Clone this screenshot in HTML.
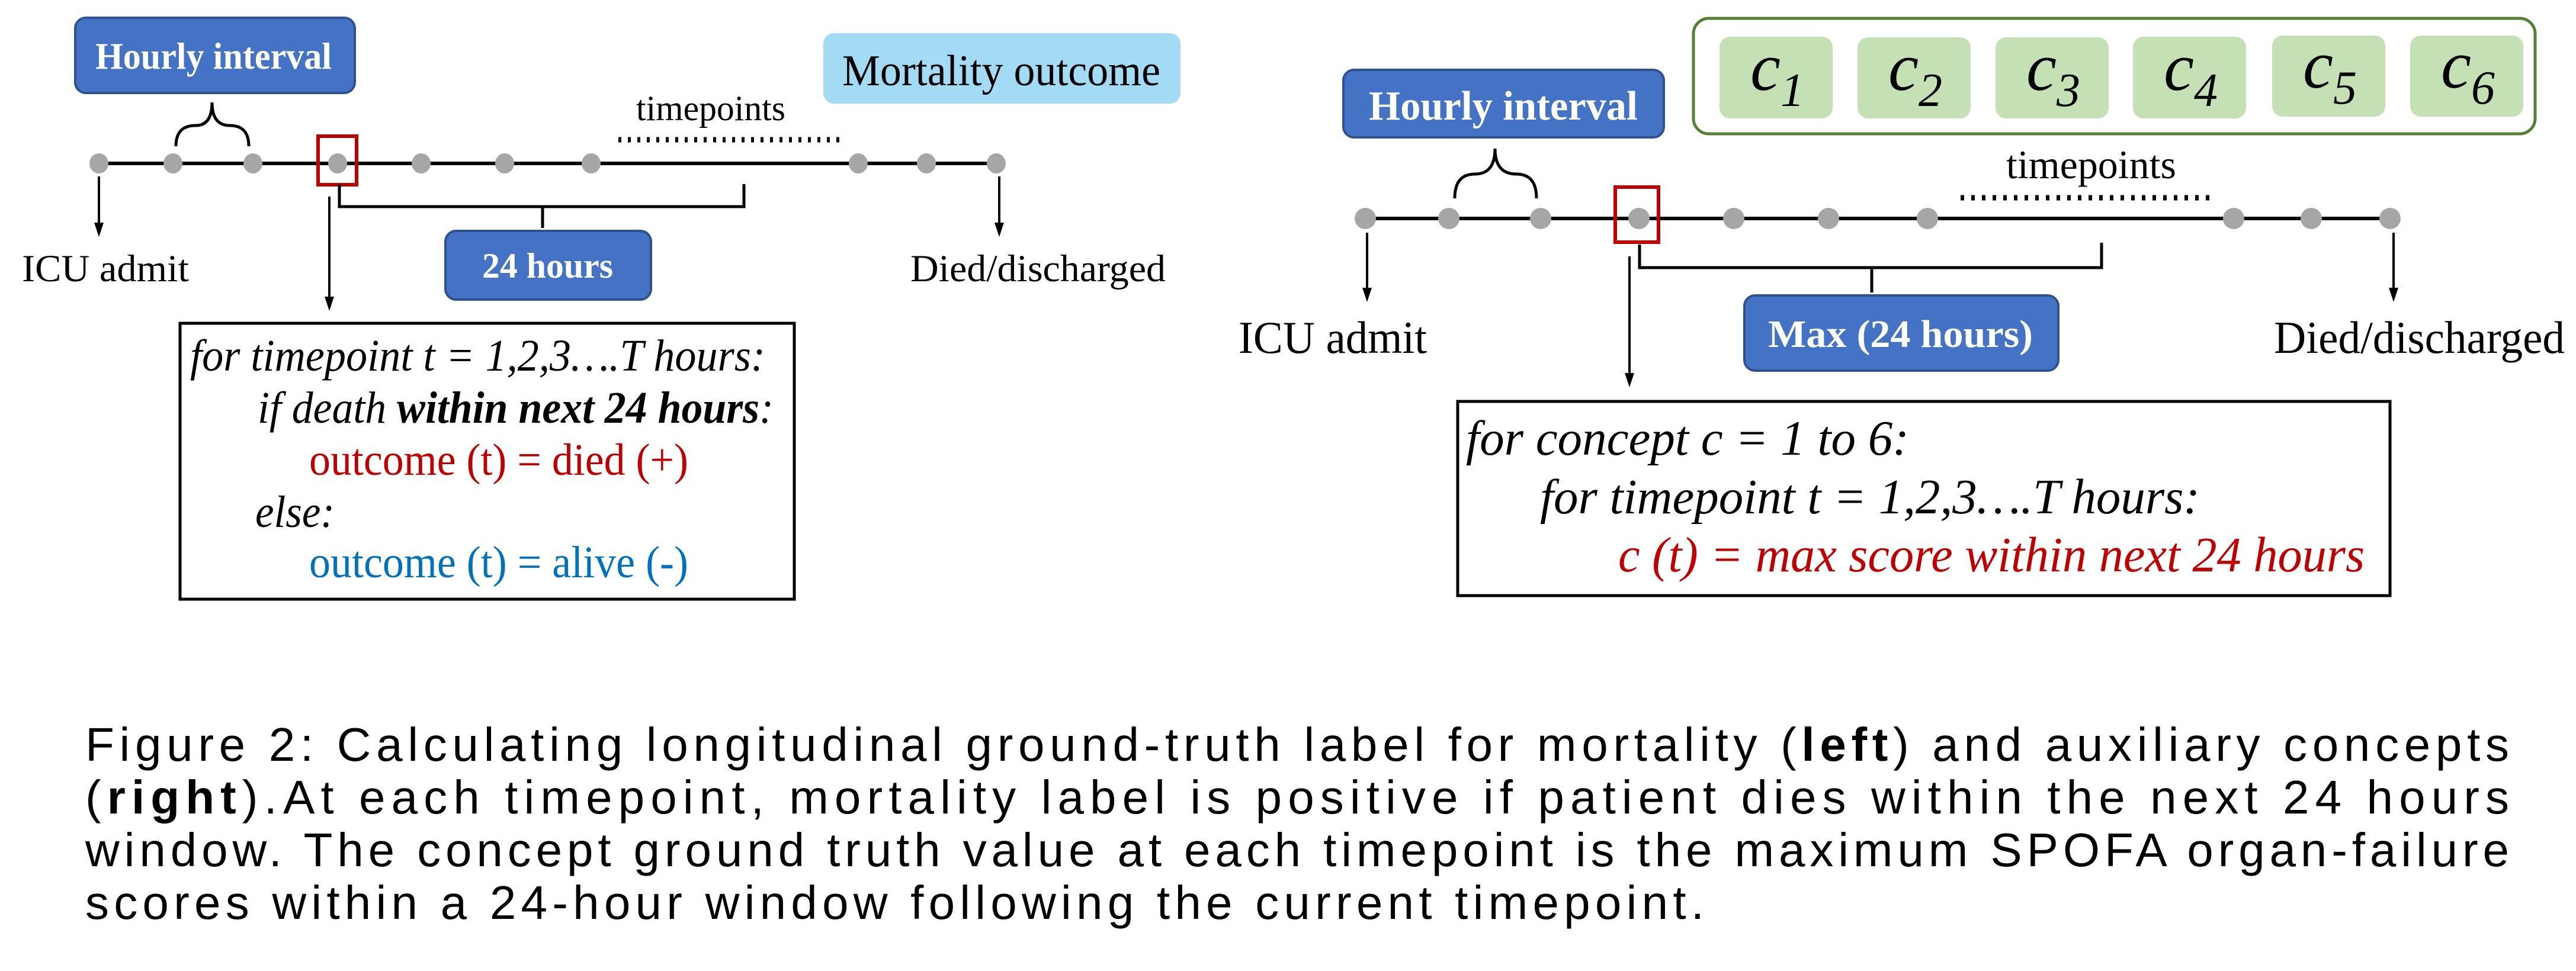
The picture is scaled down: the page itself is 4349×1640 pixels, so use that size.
<!DOCTYPE html>
<html><head><meta charset="utf-8"><style>
html,body{margin:0;padding:0;background:#fff;}
body{width:4349px;height:1640px;position:relative;overflow:hidden;}
svg{position:absolute;left:0;top:0;font-family:"Liberation Serif",serif;}
svg text{font-family:"Liberation Serif",serif;}
svg text.cap{font-family:"Liberation Sans",sans-serif;font-size:80px;}
</style></head><body>
<svg width="4349" height="1640" viewBox="0 0 4349 1640">
<!-- LEFT -->
<rect x="127" y="30" width="472" height="127" rx="18" fill="#4472C4" stroke="#2F528F" stroke-width="4"/>
<text x="161" y="116" font-size="63" font-weight="bold" fill="#fff" textLength="399" lengthAdjust="spacingAndGlyphs">Hourly interval</text>
<rect x="1390" y="56" width="603" height="119" rx="18" fill="#A3DBF5"/>
<text x="1422" y="144" font-size="74" fill="#000" textLength="537" lengthAdjust="spacingAndGlyphs">Mortality outcome</text>
<text x="1074" y="203" font-size="60" textLength="252" lengthAdjust="spacingAndGlyphs">timepoints</text>
<line x1="1044" y1="236" x2="1419" y2="236" stroke="#000" stroke-width="9" stroke-dasharray="5 11"/>
<path d="M297,247 Q297,212 330,212 Q358,212 358,173 Q358,212 388,212 Q420,212 420,247" fill="none" stroke="#000" stroke-width="5"/>
<line x1="167" y1="276" x2="1682" y2="276" stroke="#000" stroke-width="6"/>
<g fill="#A6A6A6">
<ellipse cx="167" cy="276" rx="16" ry="17"/><ellipse cx="292" cy="276" rx="16" ry="17"/><ellipse cx="427" cy="276" rx="16" ry="17"/><ellipse cx="570" cy="276" rx="16" ry="17"/><ellipse cx="711" cy="276" rx="16" ry="17"/><ellipse cx="852" cy="276" rx="16" ry="17"/><ellipse cx="998" cy="276" rx="16" ry="17"/><ellipse cx="1449" cy="276" rx="16" ry="17"/><ellipse cx="1564" cy="276" rx="16" ry="17"/><ellipse cx="1682" cy="276" rx="16" ry="17"/>
</g>
<rect x="537" y="230" width="65" height="82" fill="none" stroke="#C00000" stroke-width="6"/>
<path d="M573,311 L573,349 L1256,349 L1256,311 M916,349 L916,385" fill="none" stroke="#000" stroke-width="5"/>
<g stroke="#000" stroke-width="4">
<line x1="167" y1="298" x2="167" y2="380"/>
<line x1="1687" y1="298" x2="1687" y2="380"/>
<line x1="556" y1="332" x2="556" y2="505"/>
</g>
<g fill="#000">
<polygon points="159,376 175,376 167,400"/>
<polygon points="1679,376 1695,376 1687,400"/>
<polygon points="548,501 564,501 556,525"/>
</g>
<text x="37" y="475" font-size="65" textLength="282" lengthAdjust="spacingAndGlyphs">ICU admit</text>
<text x="1537" y="475" font-size="65" textLength="431" lengthAdjust="spacingAndGlyphs">Died/discharged</text>
<rect x="752" y="390" width="347" height="116" rx="18" fill="#4472C4" stroke="#2F528F" stroke-width="4"/>
<text x="814" y="469" font-size="60" font-weight="bold" fill="#fff" textLength="221" lengthAdjust="spacingAndGlyphs">24 hours</text>
<rect x="304" y="546" width="1037" height="466" fill="none" stroke="#000" stroke-width="5"/>
<g font-size="76" font-style="italic">
<text x="321" y="626" textLength="971" lengthAdjust="spacingAndGlyphs">for timepoint t = 1,2,3….T hours:</text>
<text x="435" y="714" textLength="871" lengthAdjust="spacingAndGlyphs">if death <tspan font-weight="bold">within next 24 hours</tspan>:</text>
<text x="431" y="890" textLength="134" lengthAdjust="spacingAndGlyphs">else:</text>
</g>
<text x="522" y="802" font-size="76" fill="#C00000" textLength="640" lengthAdjust="spacingAndGlyphs">outcome (t) = died (+)</text>
<text x="522" y="975" font-size="76" fill="#0070C0" textLength="640" lengthAdjust="spacingAndGlyphs">outcome (t) = alive (-)</text>

<!-- RIGHT -->
<rect x="2268" y="118" width="541" height="114" rx="18" fill="#4472C4" stroke="#2F528F" stroke-width="4"/>
<text x="2311" y="202" font-size="70" font-weight="bold" fill="#fff" textLength="454" lengthAdjust="spacingAndGlyphs">Hourly interval</text>
<rect x="2859" y="31" width="1421" height="195" rx="26" fill="#fff" stroke="#548235" stroke-width="5"/>
<g fill="#C5E0B4">
<rect x="2903" y="62" width="191" height="138" rx="18"/><rect x="3136" y="63" width="191" height="137" rx="18"/><rect x="3369" y="63" width="191" height="137" rx="18"/><rect x="3601" y="62" width="191" height="138" rx="18"/><rect x="3836" y="60" width="191" height="137" rx="18"/><rect x="4069" y="60" width="191" height="137" rx="18"/>
</g>
<g font-style="italic" font-size="115">
<text x="2955" y="152">c<tspan font-size="80" dy="27">1</tspan></text>
<text x="3188" y="152">c<tspan font-size="80" dy="27">2</tspan></text>
<text x="3421" y="152">c<tspan font-size="80" dy="27">3</tspan></text>
<text x="3653" y="152">c<tspan font-size="80" dy="27">4</tspan></text>
<text x="3888" y="148">c<tspan font-size="80" dy="27">5</tspan></text>
<text x="4121" y="148">c<tspan font-size="80" dy="27">6</tspan></text>
</g>
<text x="3387" y="301" font-size="68" textLength="287" lengthAdjust="spacingAndGlyphs">timepoints</text>
<line x1="3310" y1="334" x2="3740" y2="334" stroke="#000" stroke-width="9" stroke-dasharray="6 12"/>
<path d="M2456,335 Q2456,294 2490,294 Q2524,294 2524,251 Q2524,294 2560,294 Q2594,294 2594,335" fill="none" stroke="#000" stroke-width="5"/>
<line x1="2305" y1="369" x2="4035" y2="369" stroke="#000" stroke-width="6"/>
<g fill="#A6A6A6">
<ellipse cx="2305" cy="369" rx="18" ry="18"/><ellipse cx="2446" cy="369" rx="18" ry="18"/><ellipse cx="2601" cy="369" rx="18" ry="18"/><ellipse cx="2767" cy="369" rx="18" ry="18"/><ellipse cx="2927" cy="369" rx="18" ry="18"/><ellipse cx="3087" cy="369" rx="18" ry="18"/><ellipse cx="3254" cy="369" rx="18" ry="18"/><ellipse cx="3771" cy="369" rx="18" ry="18"/><ellipse cx="3902" cy="369" rx="18" ry="18"/><ellipse cx="4035" cy="369" rx="18" ry="18"/>
</g>
<rect x="2727" y="316" width="73" height="93" fill="none" stroke="#C00000" stroke-width="6"/>
<path d="M2768,413 L2768,452 L3548,452 L3548,410 M3160,452 L3160,494" fill="none" stroke="#000" stroke-width="5"/>
<g stroke="#000" stroke-width="4">
<line x1="2308" y1="393" x2="2308" y2="490"/>
<line x1="4041" y1="393" x2="4041" y2="490"/>
<line x1="2751" y1="433" x2="2751" y2="634"/>
</g>
<g fill="#000">
<polygon points="2300,486 2316,486 2308,510"/>
<polygon points="4033,486 4049,486 4041,510"/>
<polygon points="2743,630 2759,630 2751,654"/>
</g>
<text x="2091" y="596" font-size="77" textLength="318" lengthAdjust="spacingAndGlyphs">ICU admit</text>
<text x="3839" y="596" font-size="77" textLength="491" lengthAdjust="spacingAndGlyphs">Died/discharged</text>
<rect x="2945" y="499" width="530" height="127" rx="18" fill="#4472C4" stroke="#2F528F" stroke-width="4"/>
<text x="2985" y="586" font-size="66" font-weight="bold" fill="#fff" textLength="447" lengthAdjust="spacingAndGlyphs">Max (24 hours)</text>
<rect x="2461" y="678" width="1574" height="328" fill="none" stroke="#000" stroke-width="5"/>
<g font-size="84" font-style="italic">
<text x="2475" y="768" textLength="748" lengthAdjust="spacingAndGlyphs">for concept c = 1 to 6:</text>
<text x="2600" y="867" textLength="1114" lengthAdjust="spacingAndGlyphs">for timepoint t = 1,2,3….T hours:</text>
<text x="2732" y="965" fill="#C00000" textLength="1260" lengthAdjust="spacingAndGlyphs">c (t) = max score within next 24 hours</text>
</g>
<!-- caption -->
<text class="cap" x="144" y="1285" textLength="4092" lengthAdjust="spacing">Figure 2: Calculating longitudinal ground-truth label for mortality (<tspan font-weight="bold">left</tspan>) and auxiliary concepts</text>
<text class="cap" x="144" y="1374" textLength="4092" lengthAdjust="spacing">(<tspan font-weight="bold">right</tspan>).At each timepoint, mortality label is positive if patient dies within the next 24 hours</text>
<text class="cap" x="144" y="1463" textLength="4092" lengthAdjust="spacing">window. The concept ground truth value at each timepoint is the maximum SPOFA organ-failure</text>
<text class="cap" x="144" y="1552" textLength="2733" lengthAdjust="spacing">scores within a 24-hour window following the current timepoint.</text>
</svg>
</body></html>
